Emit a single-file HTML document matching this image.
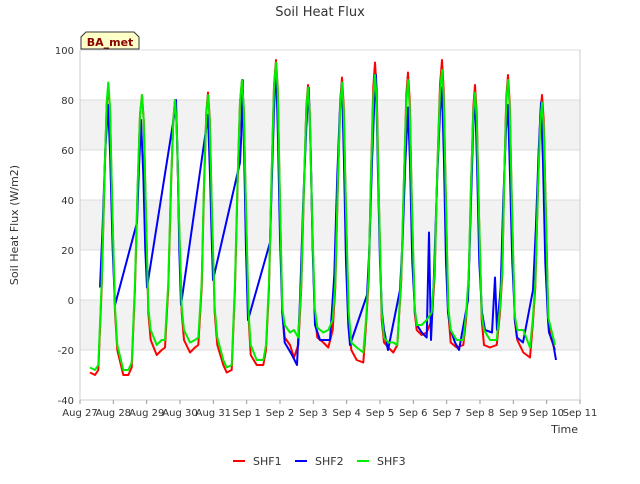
<!DOCTYPE html>
<html><head><meta charset="utf-8"><style>
body{margin:0;background:#fff;font-family:"DejaVu Sans","Liberation Sans",sans-serif}
</style></head><body>
<svg id="chart" width="640" height="480" xmlns="http://www.w3.org/2000/svg" style="font-family:'DejaVu Sans','Liberation Sans',sans-serif">
<rect width="640" height="480" fill="#fff"/>
<g id="bands"></g><g id="grid"></g><g id="series"></g><g id="axes"></g>
<text x="320" y="16" text-anchor="middle" font-size="13" fill="#333">Soil Heat Flux</text>
<text x="18" y="225" text-anchor="middle" font-size="11" fill="#333" transform="rotate(-90 18 225)">Soil Heat Flux (W/m2)</text>
<text x="578" y="433" text-anchor="end" font-size="11" fill="#333">Time</text>
<g>
<path d="M81,49 L81,37 L86,32 L134,32 L139,37 L139,49 Z" fill="#ffffc8" stroke="#333"/>
<text x="110" y="46" text-anchor="middle" font-size="11" font-weight="bold" fill="#8b0000">BA_met</text>
</g>
<g id="legend"></g>
</svg>
<script>
const xTicks=["Aug 27","Aug 28","Aug 29","Aug 30","Aug 31","Sep 1","Sep 2","Sep 3","Sep 4","Sep 5","Sep 6","Sep 7","Sep 8","Sep 9","Sep 10","Sep 11"];
const yTicks=[-40,-20,0,20,40,60,80,100];
const seriesNames=["SHF1","SHF2","SHF3"];
const seriesColors=["#ff0000","#0000ff","#00ee00"];
const shf1=[[0.3,-29],[0.45,-30],[0.55,-28],[0.65,5],[0.73,45],[0.8,78],[0.85,86],[0.9,76],[0.97,35],[1.05,-5],[1.12,-20],
[1.3,-30],[1.45,-30],[1.55,-27],[1.65,5],[1.73,45],[1.8,74],[1.86,82],[1.91,72],[1.98,33],[2.05,-5],[2.12,-16],
[2.3,-22],[2.45,-20],[2.55,-19],[2.65,5],[2.73,45],[2.8,72],[2.85,80],[2.9,70],[2.97,32],[3.05,-5],[3.12,-16],
[3.3,-21],[3.45,-19],[3.55,-18],[3.65,5],[3.72,45],[3.79,75],[3.84,83],[3.89,73],[3.96,33],[4.04,-5],[4.12,-18],
[4.3,-26],[4.4,-29],[4.55,-28],[4.65,5],[4.73,48],[4.8,79],[4.86,88],[4.91,77],[4.98,35],[5.06,-8],[5.12,-22],
[5.3,-26],[5.5,-26],[5.58,-20],[5.67,5],[5.75,50],[5.82,86],[5.88,96],[5.93,85],[6.0,38],[6.07,-5],[6.14,-15],
[6.3,-18],[6.42,-23],[6.55,-18],[6.64,5],[6.72,45],[6.79,77],[6.84,86],[6.89,76],[6.96,34],[7.04,-5],[7.12,-15],
[7.3,-17],[7.45,-19],[7.58,-12],[7.66,5],[7.74,48],[7.81,80],[7.86,89],[7.91,78],[7.98,35],[8.06,-8],[8.14,-20],
[8.3,-24],[8.5,-25],[8.58,-10],[8.66,8],[8.73,50],[8.8,85],[8.85,95],[8.9,84],[8.97,38],[9.05,-8],[9.12,-17],
[9.25,-19],[9.4,-21],[9.52,-18],[9.64,8],[9.72,48],[9.79,82],[9.84,91],[9.89,80],[9.96,36],[10.04,-5],[10.1,-12],
[10.25,-14],[10.4,-13],[10.55,-8],[10.64,10],[10.72,52],[10.8,86],[10.86,96],[10.91,84],[10.98,38],[11.05,-5],[11.12,-17],
[11.3,-19],[11.5,-18],[11.58,-8],[11.66,8],[11.73,45],[11.8,77],[11.85,86],[11.9,75],[11.97,34],[12.05,-8],[12.12,-18],
[12.3,-19],[12.5,-18],[12.6,-5],[12.67,10],[12.73,50],[12.79,81],[12.84,90],[12.89,79],[12.96,36],[13.04,-8],[13.12,-16],
[13.3,-21],[13.5,-23],[13.58,-10],[13.66,5],[13.74,45],[13.81,74],[13.86,82],[13.91,72],[13.98,33],[14.05,-8],[14.12,-15],[14.25,-20]];
const shf2=[[0.6,5],[0.68,30],[0.76,60],[0.84,78],[0.9,60],[0.98,20],[1.05,-2],
[1.71,31],[1.76,50],[1.83,72],[1.9,50],[1.96,20],[2.01,5],
[2.83,74],[2.88,80],[2.93,55],[2.98,20],[3.03,-2],
[3.8,70],[3.84,74],[3.9,50],[3.95,25],[3.99,8],
[4.8,55],[4.84,66],[4.88,88],[4.93,55],[4.98,20],[5.04,-8],
[5.7,23],[5.76,50],[5.82,76],[5.88,94],[5.93,70],[6.0,25],[6.07,-5],[6.14,-17],[6.36,-22],[6.51,-26],[6.6,0],[6.7,40],[6.79,69],[6.86,85],[6.92,60],[6.98,20],[7.05,-10],[7.2,-16],[7.5,-16],[7.63,10],[7.72,50],[7.8,77],[7.86,87],[7.92,55],[7.98,15],[8.05,-10],[8.1,-18],
[8.61,2],[8.68,20],[8.76,55],[8.83,79],[8.88,90],[8.94,50],[9.0,15],[9.06,-5],[9.12,-12],[9.24,-20],
[9.6,4],[9.68,25],[9.76,55],[9.84,77],[9.9,55],[9.97,15],[10.05,-5],[10.11,-10],[10.25,-13],[10.4,-15],[10.47,27],[10.53,-16],[10.62,10],[10.72,50],[10.8,75],[10.86,85],[10.92,55],[10.98,15],[11.04,-5],[11.12,-12],[11.25,-17],[11.37,-20],
[11.64,0],[11.72,35],[11.8,70],[11.85,83],[11.91,55],[11.98,15],[12.06,-5],[12.15,-12],[12.36,-13],[12.45,9],[12.51,-12],[12.62,5],[12.7,40],[12.78,68],[12.84,78],[12.9,50],[12.97,15],[13.05,-8],[13.11,-15],[13.29,-17],
[13.59,4],[13.68,30],[13.76,60],[13.83,79],[13.89,55],[13.96,15],[14.04,-8],[14.07,-13],[14.19,-17],[14.28,-24]];
const shf3=[[0.3,-27],[0.45,-28],[0.55,-26],[0.65,7],[0.73,47],[0.8,79],[0.85,87],[0.9,77],[0.97,37],[1.05,-3],[1.12,-18],
[1.3,-28],[1.45,-28],[1.55,-25],[1.65,7],[1.73,47],[1.8,74],[1.86,82],[1.91,72],[1.98,34],[2.05,-3],[2.12,-12],
[2.3,-18],[2.45,-16],[2.55,-16],[2.65,7],[2.73,47],[2.8,72],[2.85,80],[2.9,70],[2.97,33],[3.05,-3],[3.12,-12],
[3.3,-17],[3.45,-16],[3.55,-15],[3.65,7],[3.72,47],[3.79,74],[3.84,82],[3.89,72],[3.96,34],[4.04,-3],[4.12,-15],
[4.3,-24],[4.4,-27],[4.55,-26],[4.65,7],[4.73,50],[4.8,79],[4.86,88],[4.91,77],[4.98,36],[5.06,-6],[5.12,-18],
[5.3,-24],[5.5,-24],[5.58,-18],[5.67,7],[5.75,52],[5.82,85],[5.88,95],[5.93,84],[6.0,39],[6.07,-3],[6.14,-10],
[6.3,-13],[6.42,-12],[6.55,-15],[6.64,7],[6.72,47],[6.79,76],[6.84,85],[6.89,75],[6.96,35],[7.04,-3],[7.12,-11],
[7.3,-13],[7.45,-12],[7.58,-8],[7.66,7],[7.74,50],[7.81,78],[7.86,87],[7.91,76],[7.98,36],[8.06,-5],[8.14,-17],
[8.3,-19],[8.5,-21],[8.58,-8],[8.66,10],[8.73,50],[8.8,81],[8.85,90],[8.9,80],[8.97,38],[9.05,-5],[9.12,-15],
[9.25,-17],[9.4,-17],[9.52,-18],[9.64,10],[9.72,50],[9.79,79],[9.84,88],[9.89,77],[9.96,36],[10.04,-3],[10.1,-10],
[10.25,-10],[10.4,-8],[10.55,-5],[10.64,12],[10.72,52],[10.8,83],[10.86,92],[10.91,81],[10.98,38],[11.05,-3],[11.12,-12],
[11.3,-16],[11.5,-16],[11.58,-6],[11.66,10],[11.73,46],[11.8,75],[11.85,83],[11.9,73],[11.97,34],[12.05,-6],[12.12,-12],
[12.3,-16],[12.5,-16],[12.6,-3],[12.67,12],[12.73,50],[12.79,79],[12.84,88],[12.89,77],[12.96,36],[13.04,-6],[13.12,-12],
[13.3,-12],[13.5,-19],[13.58,-8],[13.66,7],[13.74,45],[13.81,71],[13.86,79],[13.91,69],[13.98,32],[14.05,-7],[14.12,-11],[14.25,-18]];
const NS="http://www.w3.org/2000/svg";
const L=80,R=580,T=50,B=400,yMin=-40,yMax=100,days=15;
const xs=d=>L+(R-L)*d/days;
const ys=v=>B-(B-T)*(v-yMin)/(yMax-yMin);
function mk(tag,attrs,parent){const e=document.createElementNS(NS,tag);for(const k in attrs)e.setAttribute(k,attrs[k]);parent.appendChild(e);return e;}
const bands=document.getElementById('bands'),grid=document.getElementById('grid'),axes=document.getElementById('axes'),ser=document.getElementById('series'),leg=document.getElementById('legend');
mk('rect',{x:L,y:T,width:R-L,height:B-T,fill:'#fff'},bands);
[[60,80],[20,40],[-20,0]].forEach(b=>{const r=mk('rect',{x:L,y:ys(b[1]),width:R-L,height:ys(b[0])-ys(b[1]),fill:'#f2f2f2'},bands);

});
yTicks.forEach(v=>{const g=mk('line',{x1:L,x2:R,y1:ys(v),y2:ys(v),stroke:'#dcdcdc','stroke-width':1},grid);


const t=mk('text',{x:L-6,y:ys(v)+4,'text-anchor':'end','font-size':10,fill:'#333'},axes);t.textContent=v;

});
mk('line',{x1:L,x2:L,y1:T,y2:B,stroke:'#ccc'},axes);
mk('line',{x1:R,x2:R,y1:T,y2:B,stroke:'#ccc'},axes);
mk('line',{x1:L,x2:R,y1:B,y2:B,stroke:'#ccc'},axes);
xTicks.forEach((s,i)=>{mk('line',{x1:xs(i),x2:xs(i),y1:B,y2:B+4,stroke:'#999'},axes);
const t=mk('text',{x:xs(i),y:B+16,'text-anchor':'middle','font-size':10,fill:'#333'},axes);t.textContent=s;

});
[shf1,shf2,shf3].forEach((data,i)=>{const p=mk('polyline',{points:data.map(d=>xs(d[0]).toFixed(1)+','+ys(d[1]).toFixed(1)).join(' '),fill:'none',stroke:seriesColors[i],'stroke-width':2,'stroke-linejoin':'round'},ser);


const lx=233+i*62;
const g=mk('g',{},leg);


mk('line',{x1:lx,x2:lx+12,y1:461,y2:461,stroke:seriesColors[i],'stroke-width':2},g);
const t=mk('text',{x:lx+20,y:465,'font-size':11,fill:'#333'},g);t.textContent=seriesNames[i];});
</script>
</body></html>
